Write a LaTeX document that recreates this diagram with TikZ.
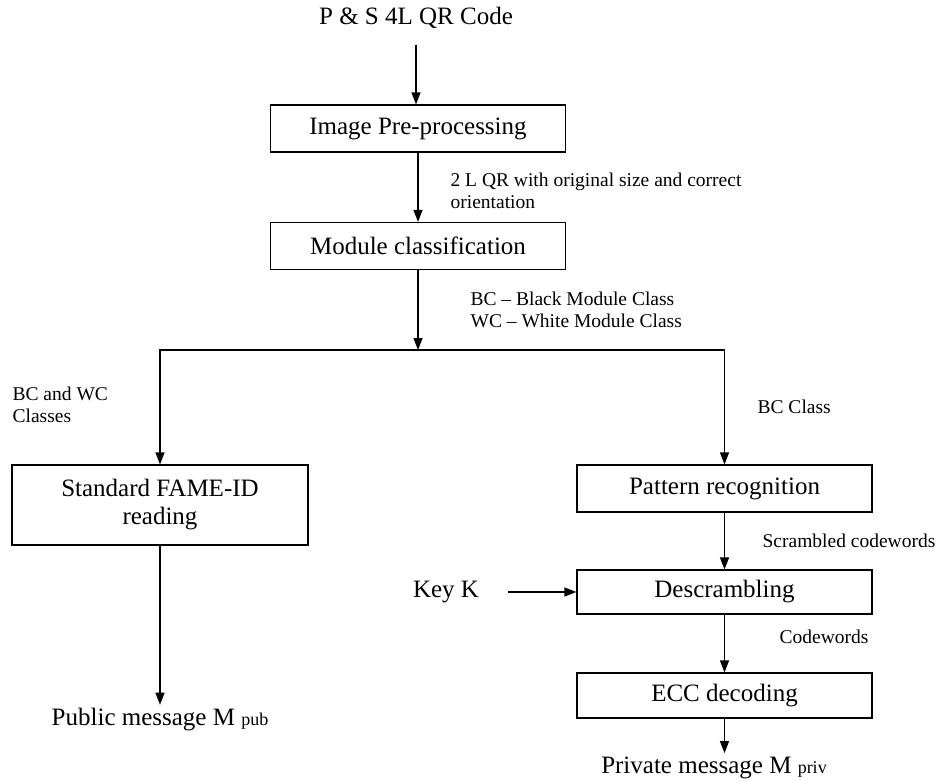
\documentclass[tikz,border=0pt]{standalone}
\usepackage{fontspec}
\setmainfont{Liberation Serif}
\usetikzlibrary{positioning, arrows.meta}

\begin{document}
\begin{tikzpicture}[x=1pt, y=-1pt, on grid, line width=1.2pt, >={Triangle[length=12pt,width=9pt]}]
        \tikzset{block/.style={draw, rectangle, minimum width=295pt, minimum height=47pt, align=center, font=\fontsize{25}{28}\selectfont}}
        \tikzset{txt/.style={font=\fontsize{25}{28}\selectfont}}
        \tikzstyle{lbl}=[font=\fontsize{19.5}{21.5}\selectfont, align=left, anchor=west, inner sep=0pt]

        \useasboundingbox (0,0) rectangle (939,780);

        \node[txt] (qr) at (416,18) {P \& S 4L QR Code};
        \node[block] (prep) at (418,128.5) {Image Pre-processing};
        \node[block] (module) [below=117.5pt of prep] {Module classification};
        \coordinate[below=104pt of module] (split);
        \node[block, minimum width=296pt, minimum height=80pt] (fame) at (160,505) {Standard FAME-ID\\reading};
        \node[block] (pattern) at (724.5,488.5) {Pattern recognition};
        \node[block, minimum height=44pt] (descr) [below=103.5pt of pattern] {Descrambling};
        \node[block, minimum height=45pt] (ecc) [below=103.5pt of descr] {ECC decoding};
        \node[txt] (key) [left=278.5pt of descr] {Key K};
        \node[txt] (pub) [below=215pt of fame] {Public message M {\fontsize{18}{18}\selectfont pub}};
        \node[txt] (priv) at (714,768) {Private message M {\fontsize{18}{18}\selectfont priv}};

        \node[lbl] (orient) at (450,191) {2 L QR with original size and correct\\orientation};
        \node[lbl] (classes) at (470,310) {BC – Black Module Class\\WC – White Module Class};
        \node[lbl] (bcwc) at (12,405) {BC and WC\\Classes};
        \node[lbl] (bc) at (757,407) {BC Class};
        \node[lbl] (scr) at (762,541) {Scrambled codewords};
        \node[lbl] (cw) at (779,637) {Codewords};

        \draw[->, shorten <=12pt] (qr) -- (qr |- prep.north);
        \draw[->] (prep) -- (module);
        \draw[->] (module) -- (split);
        \draw[->] (split) -| (fame);
        \draw[->] (split) -| (pattern);
        \draw[->] (fame) -- (pub);
        \draw[->] (pattern) -- (descr);
        \draw[->, shorten <=25pt] (key) -- (descr);
        \draw[->] (descr) -- (ecc);
        \draw[->] (ecc) -- (ecc |- priv.north);
\end{tikzpicture}
\end{document}
